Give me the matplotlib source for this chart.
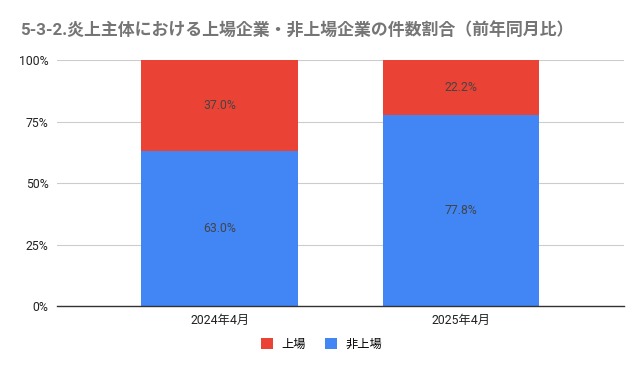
import matplotlib.pyplot as plt
import numpy as np

plt.rcParams['font.family'] = ['Roboto', 'Noto Sans CJK JP', 'DejaVu Sans']

months = ['2024年4月', '2025年4月']
listed = [37.0, 22.2]
unlisted = [63.0, 77.8]

fig = plt.figure(figsize=(6.43, 3.71), dpi=100)
ax = fig.add_axes([0.0886, 0.175, 0.8814, 0.663])

x = np.arange(len(months))
blue = '#4285f4'
red = '#ea4335'
b1 = ax.bar(x, unlisted, width=0.65, color=blue, label='非上場', zorder=3)
b2 = ax.bar(x, listed, width=0.65, bottom=unlisted, color=red, label='上場', zorder=3)

for i in range(len(months)):
    ax.text(x[i], unlisted[i] / 2, f'{unlisted[i]:.1f}%', ha='center', va='center',
            fontsize=8.8, color='#444444', zorder=4)
    ax.text(x[i], unlisted[i] + listed[i] / 2, f'{listed[i]:.1f}%', ha='center', va='center',
            fontsize=8.8, color='#444444', zorder=4)

ax.set_xlim(-0.675, 1.675)
ax.set_ylim(0, 100)
ax.set_yticks([0, 25, 50, 75, 100])
ax.set_yticklabels(['0%', '25%', '50%', '75%', '100%'])
ax.set_xticks(x)
ax.set_xticklabels(months)
ax.tick_params(axis='both', length=0, labelsize=8.8, colors='#222222')
ax.tick_params(axis='y', pad=6)
ax.tick_params(axis='x', pad=6)
ax.grid(axis='y', color='#cccccc', linewidth=0.8, zorder=0)
for s in ['top', 'right', 'left']:
    ax.spines[s].set_visible(False)
ax.spines['bottom'].set_color('#333333')
ax.spines['bottom'].set_linewidth(1)
ax.spines['bottom'].set_zorder(5)

fig.text(0.031, 0.918, '5-3-2.炎上主体における上場企業・非上場企業の件数割合（前年同月比）',
         fontsize=12.2, color='#757575', fontweight='bold', va='center', ha='left')

fig.legend(handles=[b2, b1], labels=['上場', '非上場'], loc='center', bbox_to_anchor=(0.5, 0.073),
           ncol=2, frameon=False, fontsize=8.8, handlelength=1.0, handleheight=1.0,
           columnspacing=1.5, handletextpad=0.7)

fig.savefig('out.png', dpi=100)
